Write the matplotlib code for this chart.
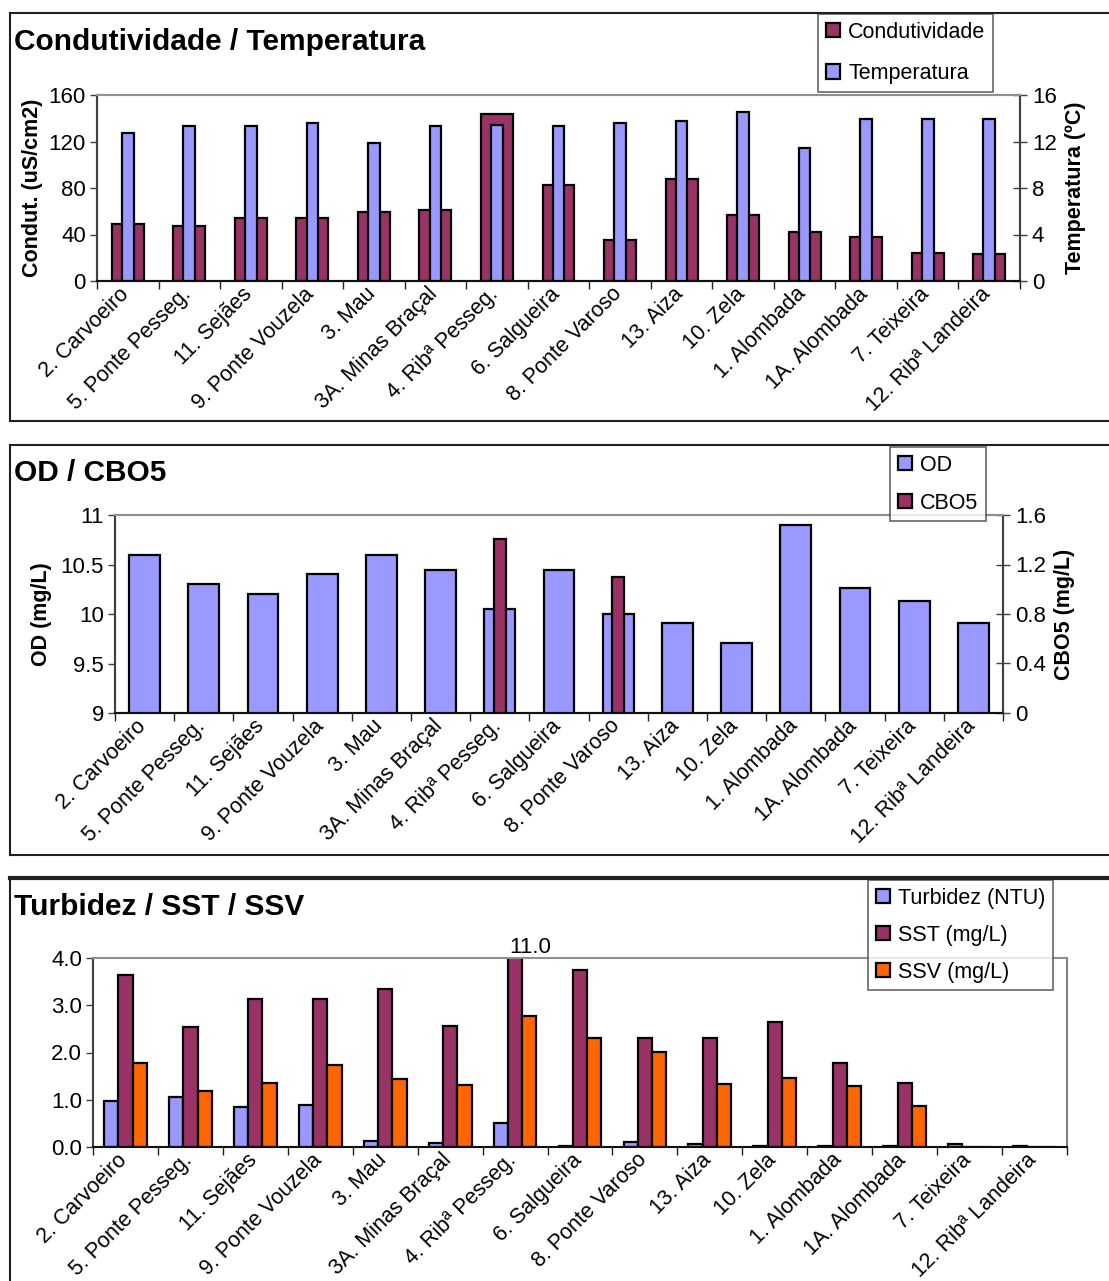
import numpy as np
import matplotlib
matplotlib.use("Agg")
import matplotlib.pyplot as plt
from matplotlib.lines import Line2D
from matplotlib.transforms import ScaledTranslation

plt.rcParams['font.family'] = ['Liberation Sans', 'DejaVu Sans']

# ---------------- data ----------------
stations = ["2. Carvoeiro", "5. Ponte Pesseg.", "11. Sejães", "9. Ponte Vouzela",
            "3. Mau", "3A. Minas Braçal", "4. Ribª Pesseg.", "6. Salgueira",
            "8. Ponte Varoso", "13. Aiza", "10. Zela", "1. Alombada",
            "1A. Alombada", "7. Teixeira", "12. Ribª Landeira"]

condutividade = [49, 47, 54, 54, 59, 61, 144, 83, 35, 88, 57, 42, 38, 24.5, 23]
temperatura = [12.7, 13.3, 13.3, 13.6, 11.9, 13.3, 13.4, 13.3, 13.6, 13.8, 14.5, 11.4, 13.9, 13.9, 13.9]

od = [10.6, 10.3, 10.2, 10.4, 10.6, 10.44, 10.05, 10.44, 10.0, 9.91, 9.71, 10.9, 10.26, 10.13, 9.91]
cbo5 = [0, 0, 0, 0, 0, 0, 1.41, 0, 1.1, 0, 0, 0, 0, 0, 0]

turbidez = [0.97, 1.06, 0.85, 0.89, 0.13, 0.09, 0.51, 0.03, 0.11, 0.07, 0.03, 0.03, 0.03, 0.07, 0.03]
sst = [3.63, 2.53, 3.13, 3.13, 3.34, 2.57, 11.0, 3.75, 2.31, 2.31, 2.65, 1.77, 1.35, 0, 0]
ssv = [1.77, 1.19, 1.36, 1.73, 1.44, 1.31, 2.78, 2.31, 2.02, 1.34, 1.47, 1.30, 0.87, 0, 0]

# ---------------- style ----------------
MAROON = "#993366"
BLUE = "#9999FF"
ORANGE = "#FF6600"
W, H = 1109, 1281
fig = plt.figure(figsize=(W / 100, H / 100), dpi=100)

TICK_FS = 16
XLAB_FS = 15.5
LAB_FS = 15.5
TITLE_FS = 21.5
LEG_FS = 15.5


def fx(px):
    return px / W


def fy(py):
    return 1 - py / H


def add_axes(l, t, r, b):
    return fig.add_axes([fx(l), fy(b), fx(r) - fx(l), fy(t) - fy(b)])


def panel_frame(top, bottom, lw_top=1.5):
    fig.add_artist(Line2D([fx(10), fx(W + 10)], [fy(top), fy(top)], color="#202020", lw=lw_top,
                          transform=fig.transFigure))
    fig.add_artist(Line2D([fx(10), fx(10)], [fy(top), fy(bottom)], color="#202020", lw=1.5,
                          transform=fig.transFigure))
    if bottom < H:
        fig.add_artist(Line2D([fx(10), fx(W + 10)], [fy(bottom), fy(bottom)], color="#202020", lw=1.5,
                              transform=fig.transFigure))


def style_x(ax, n):
    x = np.arange(n)
    ax.set_xlim(-0.5, n - 0.5)
    ax.set_xticks(x)
    ax.set_xticklabels(stations, rotation=45, ha="right", va="top", rotation_mode="anchor",
                       fontsize=XLAB_FS)
    ax.tick_params(axis="x", which="major", length=0, pad=4)
    shift = ScaledTranslation(-9 / 100, 3 / 100, fig.dpi_scale_trans)
    for lab in ax.get_xticklabels():
        lab.set_transform(lab.get_transform() + shift)
    ax.set_xticks(np.arange(n + 1) - 0.5, minor=True)
    ax.tick_params(axis="x", which="minor", length=6, width=1, color="#202020", direction="out")


def style_spines(ax, right_color="#808080"):
    ax.spines["top"].set_color("#909090")
    ax.spines["top"].set_linewidth(1.5)
    ax.spines["left"].set_color("#404040")
    ax.spines["left"].set_linewidth(1.5)
    ax.spines["bottom"].set_color("#101010")
    ax.spines["bottom"].set_linewidth(1.5)
    ax.spines["right"].set_color(right_color)
    ax.spines["right"].set_linewidth(1.5)


def make_legend(ax, handles, labels, left, top, spacing):
    leg = ax.legend(handles, labels, loc="upper left",
                    bbox_to_anchor=(fx(left), fy(top)), bbox_transform=fig.transFigure,
                    fontsize=LEG_FS, frameon=True, fancybox=False, edgecolor="#404040",
                    handlelength=0.65, handleheight=0.65, handletextpad=0.4, labelspacing=spacing,
                    borderpad=0.35, borderaxespad=0)
    leg.get_frame().set_linewidth(1.2)
    leg.set_zorder(10)
    return leg


n = len(stations)
x = np.arange(n)

# ================= Panel 1 =================
panel_frame(13, 421)
ax1 = add_axes(97, 95, 1020, 281)
b1 = ax1.bar(x, condutividade, width=0.52, color=MAROON, edgecolor="black", linewidth=1.6, zorder=2)
ax1.set_ylim(0, 160)
ax1.set_yticks([0, 40, 80, 120, 160])
ax1.tick_params(axis="y", labelsize=TICK_FS, length=5, width=1, color="#404040", pad=3)
ax1.set_ylabel("Condut. (uS/cm2)", fontsize=LAB_FS, fontweight="bold", labelpad=4)
style_x(ax1, n)
style_spines(ax1)
ax1b = ax1.twinx()
b2 = ax1b.bar(x, temperatura, width=0.19, color=BLUE, edgecolor="black", linewidth=1.6, zorder=3)
ax1b.set_ylim(0, 16)
ax1b.set_yticks([0, 4, 8, 12, 16])
ax1b.tick_params(axis="y", labelsize=TICK_FS, length=10, width=1, color="#404040", direction="inout")
ax1b.set_ylabel("Temperatura (ºC)", fontsize=LAB_FS, fontweight="bold", labelpad=6)
style_spines(ax1b, right_color="#404040")
fig.text(fx(14), fy(42), "Condutividade / Temperatura", fontsize=TITLE_FS, fontweight="bold",
         va="center", ha="left")
make_legend(ax1b, [b1, b2], ["Condutividade", "Temperatura"], 818, 14, 0.95)

# ================= Panel 2 =================
panel_frame(445, 855)
ax2 = add_axes(115, 515, 1003, 713)
b3 = ax2.bar(x, od, width=0.52, bottom=0, color=BLUE, edgecolor="black", linewidth=1.6, zorder=2)
ax2.set_ylim(9, 11)
ax2.set_yticks([9, 9.5, 10, 10.5, 11])
ax2.set_yticklabels(["9", "9.5", "10", "10.5", "11"])
ax2.tick_params(axis="y", labelsize=TICK_FS, length=5, width=1, color="#404040", pad=3)
ax2.set_ylabel("OD (mg/L)", fontsize=LAB_FS, fontweight="bold", labelpad=6)
style_x(ax2, n)
style_spines(ax2)
ax2b = ax2.twinx()
cb_x = [xi for xi, v in zip(x, cbo5) if v > 0]
cb_v = [v for v in cbo5 if v > 0]
b4 = ax2b.bar(cb_x, cb_v, width=0.2, color=MAROON, edgecolor="black", linewidth=1.6, zorder=3)
ax2b.set_ylim(0, 1.6)
ax2b.set_yticks([0, 0.4, 0.8, 1.2, 1.6])
ax2b.set_yticklabels(["0", "0.4", "0.8", "1.2", "1.6"])
ax2b.tick_params(axis="y", labelsize=TICK_FS, length=10, width=1, color="#404040", direction="inout")
ax2b.set_ylabel("CBO5 (mg/L)", fontsize=LAB_FS, fontweight="bold", labelpad=6)
style_spines(ax2b, right_color="#404040")
fig.text(fx(14), fy(473), "OD / CBO5", fontsize=TITLE_FS, fontweight="bold", va="center", ha="left")
make_legend(ax2b, [b3, b4], ["OD", "CBO5"], 890, 447, 0.8)

# ================= Panel 3 =================
panel_frame(878, H + 10, lw_top=3)
ax3 = add_axes(93, 958, 1067, 1147)
bw = 0.22
b5 = ax3.bar(x - bw, turbidez, width=bw, color=BLUE, edgecolor="black", linewidth=1.6, zorder=2)
b6 = ax3.bar(x, sst, width=bw, color=MAROON, edgecolor="black", linewidth=1.6, zorder=2)
b7 = ax3.bar(x + bw, ssv, width=bw, color=ORANGE, edgecolor="black", linewidth=1.6, zorder=2)
ax3.set_ylim(0, 4.0)
ax3.set_yticks([0, 1, 2, 3, 4])
ax3.set_yticklabels([f"{v:.1f}" for v in [0, 1, 2, 3, 4]])
ax3.tick_params(axis="y", labelsize=TICK_FS, length=5, width=1, color="#404040", pad=3)
style_x(ax3, n)
style_spines(ax3)
ymax = ax3.get_ylim()[1]
for xi, v in zip(x, sst):
    if v > ymax:
        ax3.text(xi - bw / 2 + 0.02, ymax, f"{v:.1f}", ha="left", va="bottom",
                 fontsize=TICK_FS, clip_on=False)
fig.text(fx(14), fy(907), "Turbidez / SST / SSV", fontsize=TITLE_FS, fontweight="bold",
         va="center", ha="left")
make_legend(ax3, [b5, b6, b7], ["Turbidez (NTU)", "SST (mg/L)", "SSV (mg/L)"], 868, 880, 0.75)

fig.savefig("out.png", dpi=100)
